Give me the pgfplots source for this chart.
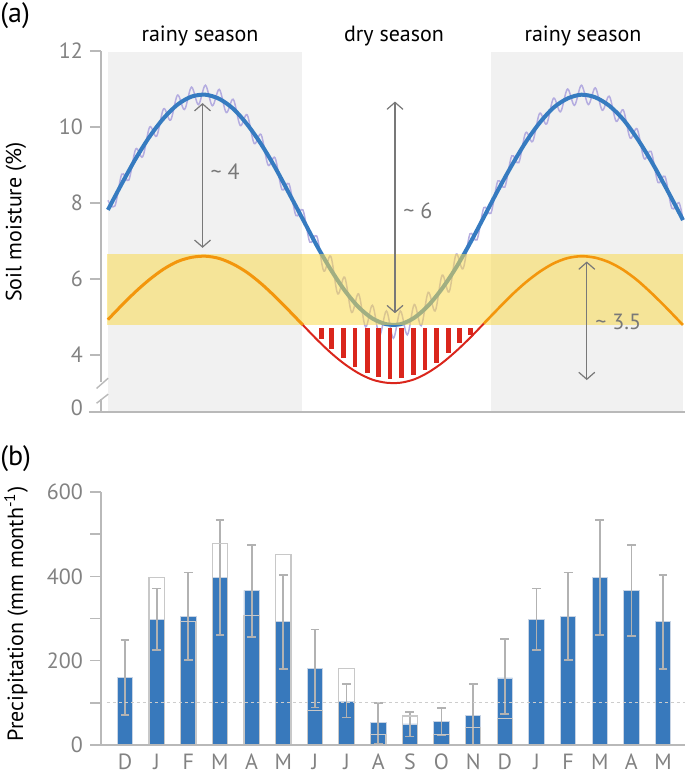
\documentclass[border=0pt]{standalone}
\usepackage{fontspec}
\setmainfont{PT Sans}
\usepackage{pgfplots}
\pgfplotsset{compat=1.18}
\usetikzlibrary{arrows.meta}
\definecolor{axisgray}{RGB}{185,185,185}
\definecolor{ticklabelgray}{RGB}{130,130,130}
\definecolor{seasongray}{RGB}{241,241,241}
\definecolor{blueline}{RGB}{54,123,192}
\definecolor{purpleline}{RGB}{180,172,224}
\definecolor{bandyellow}{RGB}{250,219,80}
\definecolor{orangeline}{RGB}{243,150,12}
\definecolor{redline}{RGB}{218,38,28}
\definecolor{barblue}{RGB}{56,121,188}
\definecolor{baredge}{RGB}{200,212,228}
\definecolor{errgray}{RGB}{178,178,178}
\definecolor{outlinegray}{RGB}{200,200,200}
\definecolor{dashgray}{RGB}{205,205,205}
\definecolor{arrowgray}{RGB}{120,120,120}
\begin{document}
\begin{tikzpicture}
\path (0,0) rectangle (342.5pt,388pt);
% ---------------- panel (a) ----------------
\begin{axis}[
  at={(50.5pt,182pt)}, anchor=south west, scale only axis,
  width=292pt, height=180.5pt,
  xmin=-0.758, xmax=17.693, ymin=2.5, ymax=12,
  axis line style={draw=none}, ytick pos=left, xtick pos=left,
  xtick=\empty, ytick={4,6,8,10,12}, yticklabels={4,6,8,10,12},
  extra y ticks={2.62}, extra y tick labels={0},
  extra y tick style={major tick length=0pt, yticklabel style={xshift=-5.5pt}},
  tick align=outside, major tick length=5.5pt,
  tick style={axisgray, line width=0.7pt},
  yticklabel style={text=ticklabelgray, font=\fontsize{11}{13}\selectfont},
  clip=false,
]
\addplot[fill=seasongray, draw=none] coordinates {(-0.54,2.5) (5.59,2.5) (5.59,11.97) (-0.54,11.97)} -- cycle;
\addplot[fill=seasongray, draw=none] coordinates {(11.56,2.5) (17.63,2.5) (17.63,11.97) (11.56,11.97)} -- cycle;
% high-frequency soil moisture
\addplot[purpleline, line width=0.75pt, smooth, tension=0.55] coordinates {
(-0.54,8.07) (-0.32,7.92) (-0.10,8.76) (0.12,8.60) (0.34,9.42) (0.56,9.22) (0.78,10.00) (1.00,9.76) (1.22,10.48) (1.44,10.18) (1.66,10.84) (1.88,10.46) (2.10,11.05) (2.32,10.59) (2.54,11.10) (2.76,10.56) (2.98,10.99) (3.20,10.38) (3.42,10.73) (3.64,10.04) (3.86,10.32) (4.08,9.57) (4.30,9.80) (4.52,9.00) (4.74,9.19) (4.96,8.35) (5.18,8.51) (5.40,7.67) (5.62,7.82) (5.84,6.97) (6.06,7.13) (6.28,6.21) (6.50,6.60) (6.72,5.61) (6.94,6.05) (7.16,5.12) (7.38,5.61) (7.60,4.74) (7.82,5.31) (8.04,4.51) (8.26,5.16) (8.48,4.44) (8.70,5.16) (8.92,4.53) (9.14,5.33) (9.36,4.77) (9.58,5.65) (9.80,5.16) (10.02,6.10) (10.24,5.66) (10.46,6.65) (10.68,6.27) (10.90,7.19) (11.12,7.03) (11.34,7.88) (11.56,7.73) (11.78,8.58) (12.00,8.42) (12.22,9.24) (12.44,9.06) (12.66,9.85) (12.88,9.62) (13.10,10.36) (13.32,10.08) (13.54,10.76) (13.76,10.40) (13.98,11.00) (14.20,10.57) (14.42,11.10) (14.64,10.59) (14.86,11.03) (15.08,10.44) (15.30,10.81) (15.52,10.15) (15.74,10.45) (15.96,9.71) (16.18,9.95) (16.40,9.17) (16.62,9.36) (16.84,8.54) (17.06,8.70) (17.28,7.86) (17.50,8.01) (17.63,7.55)};
% smoothed soil moisture
\addplot[blueline, line width=2pt, smooth] coordinates {
(-0.54,7.82) (-0.10,8.51) (0.34,9.17) (0.78,9.75) (1.22,10.23) (1.66,10.59) (2.10,10.80) (2.54,10.85) (2.98,10.74) (3.42,10.48) (3.86,10.07) (4.30,9.55) (4.74,8.94) (5.18,8.26) (5.62,7.57) (6.06,6.88) (6.50,6.25) (6.94,5.70) (7.38,5.26) (7.82,4.96) (8.26,4.81) (8.70,4.81) (9.14,4.98) (9.58,5.30) (10.02,5.75) (10.46,6.30) (10.90,6.94) (11.34,7.63) (11.78,8.33) (12.22,8.99) (12.66,9.60) (13.10,10.11) (13.54,10.51) (13.98,10.75) (14.42,10.85) (14.86,10.78) (15.30,10.56) (15.74,10.20) (16.18,9.70) (16.62,9.11) (17.06,8.45) (17.50,7.76) (17.63,7.55)};
% yellow band
\addplot[fill=bandyellow, fill opacity=0.55, draw=none] coordinates {(-0.56,4.79) (17.63,4.79) (17.63,6.66) (-0.56,6.66)} -- cycle;
% orange / red curve
\addplot[orangeline, line width=1.5pt, smooth] coordinates {
(-0.54,4.93) (-0.10,5.31) (0.34,5.67) (0.78,5.99) (1.22,6.26) (1.66,6.46) (2.10,6.57) (2.54,6.60) (2.98,6.54) (3.42,6.39) (3.86,6.17) (4.30,5.88) (4.74,5.54) (5.18,5.17) (5.62,4.79)};
\addplot[redline, line width=1pt, smooth] coordinates {
(5.62,4.79) (6.06,4.41) (6.50,4.06) (6.94,3.76) (7.38,3.52) (7.82,3.35) (8.26,3.27) (8.70,3.27) (9.14,3.36) (9.58,3.54) (10.02,3.79) (10.46,4.10) (10.90,4.45) (11.34,4.83)};
\addplot[orangeline, line width=1.3pt, smooth] coordinates {
(11.34,4.83) (11.78,5.21) (12.22,5.58) (12.66,5.91) (13.10,6.19) (13.54,6.41) (13.98,6.55) (14.42,6.60) (14.86,6.56) (15.30,6.44) (15.74,6.24) (16.18,5.97) (16.62,5.64) (17.06,5.28) (17.50,4.90) (17.63,4.79)};
% red hatching (deficit)
\addplot[redline, line width=2.4pt, unbounded coords=jump] coordinates {
(6.21,4.70) (6.21,4.43) (6.21,nan)
(6.53,4.70) (6.53,4.16) (6.53,nan)
(6.90,4.70) (6.90,3.91) (6.90,nan)
(7.27,4.70) (7.27,3.69) (7.27,nan)
(7.66,4.70) (7.66,3.52) (7.66,nan)
(8.01,4.70) (8.01,3.43) (8.01,nan)
(8.37,4.70) (8.37,3.38) (8.37,nan)
(8.74,4.70) (8.74,3.40) (8.74,nan)
(9.11,4.70) (9.11,3.48) (9.11,nan)
(9.48,4.70) (9.48,3.61) (9.48,nan)
(9.85,4.70) (9.85,3.80) (9.85,nan)
(10.22,4.70) (10.22,4.04) (10.22,nan)
(10.58,4.70) (10.58,4.31) (10.58,nan)
(10.92,4.70) (10.92,4.52)};
% arrows
\draw[arrowgray, line width=0.6pt, {Straight Barb[length=3.5pt,width=8pt]}-{Straight Barb[length=3.5pt,width=8pt]}] (axis cs:2.45,10.63) -- (axis cs:2.45,6.82);
\draw[arrowgray, line width=0.6pt, {Straight Barb[length=3.5pt,width=8pt]}-{Straight Barb[length=3.5pt,width=8pt]}] (axis cs:8.53,10.67) -- (axis cs:8.53,5.10);
\draw[arrowgray, line width=0.6pt, {Straight Barb[length=3.5pt,width=8pt]}-{Straight Barb[length=3.5pt,width=8pt]}] (axis cs:14.59,6.46) -- (axis cs:14.59,3.34);
\node[anchor=base west, text=arrowgray, font=\fontsize{11}{13}\selectfont, inner sep=0pt] at (axis cs:2.69,8.61) {\textasciitilde\ 4};
\node[anchor=base west, text=arrowgray, font=\fontsize{11}{13}\selectfont, inner sep=0pt] at (axis cs:8.78,7.60) {\textasciitilde\ 6};
\node[anchor=base west, text=arrowgray, font=\fontsize{11}{13}\selectfont, inner sep=0pt] at (axis cs:14.85,4.66) {\textasciitilde\ 3.5};
% season labels
\node[anchor=base, font=\fontsize{11}{13}\selectfont, inner sep=0pt] at (axis cs:2.37,12.26) {rainy season};
\node[anchor=base, font=\fontsize{11}{13}\selectfont, inner sep=0pt] at (axis cs:8.50,12.26) {dry season};
\node[anchor=base, font=\fontsize{11}{13}\selectfont, inner sep=0pt] at (axis cs:14.47,12.26) {rainy season};
% axis lines with break
\draw[axisgray, line width=0.7pt] (axis cs:-0.758,12) -- (axis cs:-0.758,3.30);
\draw[axisgray, line width=0.7pt] (axis cs:-0.758,2.85) -- (axis cs:-0.758,2.5);
\draw[axisgray, line width=0.7pt] ([xshift=-6pt]axis cs:-0.758,2.5) -- (axis cs:17.693,2.5);
\draw[axisgray, line width=0.7pt] ([xshift=-2.2pt]axis cs:-0.758,3.12) -- ([xshift=3.6pt]axis cs:-0.758,3.39);
\draw[axisgray, line width=0.7pt] ([xshift=-2.2pt]axis cs:-0.758,2.73) -- ([xshift=3.6pt]axis cs:-0.758,2.97);
\end{axis}
% ---------------- panel (b) ----------------
\begin{axis}[
  at={(50.5pt,15.5pt)}, anchor=south west, scale only axis,
  width=292pt, height=126.5pt,
  xmin=-0.758, xmax=17.693, ymin=0, ymax=600,
  axis line style={draw=none}, ytick pos=left, xtick pos=left,
  xtick={0,...,17}, xticklabels={D,J,F,M,A,M,J,J,A,S,O,N,D,J,F,M,A,M},
  x tick style={draw=none},
  ytick={0,100,200,300,400,500,600}, yticklabels={0,,200,,400,,600},
  tick align=outside, major tick length=5.5pt,
  y tick style={axisgray, line width=0.7pt},
  yticklabel style={text=ticklabelgray, font=\fontsize{11}{13}\selectfont},
  xticklabel style={text=ticklabelgray, font=\fontsize{11}{13}\selectfont, inner sep=0pt, anchor=base, yshift=-6.5pt},
  clip=false,
]
\addplot[ybar, bar width=7.7pt, fill=barblue, draw=baredge, line width=0.4pt,
  error bars/.cd, y dir=both, y explicit, error mark=|,
  error bar style={errgray, line width=0.9pt},
  error mark options={errgray, mark size=2.2pt, line width=0.9pt}]
coordinates {
(0,160) += (0,89) -= (0,89)
(1,298) += (0,73) -= (0,73)
(2,305) += (0,104) -= (0,103)
(3,398) += (0,136) -= (0,138)
(4,367) += (0,108) -= (0,110)
(5,292) += (0,111) -= (0,111)
(6,182) += (0,92) -= (0,93)
(7,104) += (0,40) -= (0,39)
(8,53) += (0,47) -= (0,51)
(9,50) += (0,28) -= (0,30)
(10,55) += (0,33) -= (0,31)
(11,70) += (0,74) -= (0,70)
(12,159) += (0,92) -= (0,85)
(13,298) += (0,73) -= (0,73)
(14,305) += (0,104) -= (0,103)
(15,398) += (0,136) -= (0,137)
(16,367) += (0,108) -= (0,109)
(17,293) += (0,111) -= (0,112)};
\addplot[ybar, bar width=7.7pt, fill=none, draw=outlinegray, line width=0.6pt]
coordinates {(1,398) (2,292) (3,477) (4,308) (5,452) (6,81) (7,182) (8,24) (9,69) (10,24) (11,42) (12,62)};
\addplot[dashgray, line width=0.6pt, dash pattern=on 1.5pt off 1.5pt] coordinates {(-0.57,100) (17.69,100)};
\draw[axisgray, line width=0.7pt] (axis cs:-0.758,0) -- (axis cs:-0.758,600);
\draw[axisgray, line width=0.7pt] ([xshift=-4.5pt]axis cs:-0.758,0) -- (axis cs:17.693,0);
\end{axis}
% labels outside axes
\node[rotate=90, font=\fontsize{11}{13}\selectfont, inner sep=0pt] at (8pt,277pt) {Soil moisture (\%)};
\node[rotate=90, font=\fontsize{11}{13}\selectfont, inner sep=0pt] at (8pt,81pt) {Precipitation (mm month\textsuperscript{-1})};
\node[anchor=north west, font=\fontsize{14}{16}\selectfont, inner sep=0pt] at (0pt,387pt) {(a)};
\node[anchor=north west, font=\fontsize{14}{16}\selectfont, inner sep=0pt] at (0pt,165.5pt) {(b)};
\end{tikzpicture}
\end{document}
